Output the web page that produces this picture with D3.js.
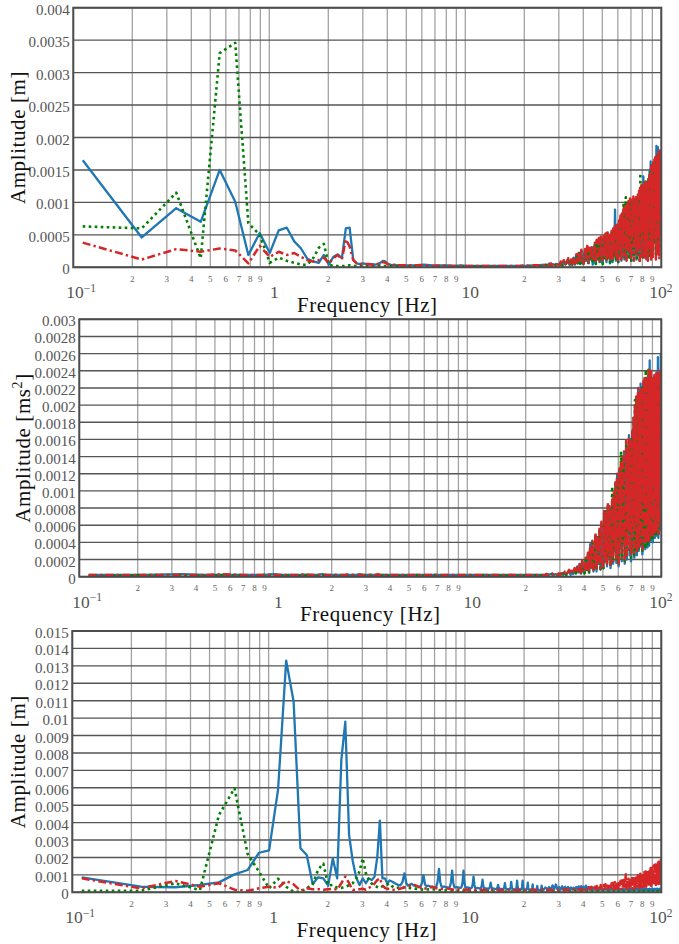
<!DOCTYPE html>
<html>
<head>
<meta charset="utf-8">
<script src="https://cdn.jsdelivr.net/npm/d3@7"></script>
<style>
  body { margin: 0; background: #fff; }
</style>
</head>
<body>
<script>
// FFT bin spacing and value unit (values below are in 1e-5)
const binHz = 0.1117;
const unit = 1e-5;
// segments: [first bin, bin step]
const LO = [1, 1], MID = [43, 6], FINE = [39, 1], HI = [225, 5];

// ---- panel 1: displacement [m]
const p1BlueLo = "165 46 91 70 150 101 19 53 22 57 61 40 29 13 9 7 19 4 16 20 14 60 61 12 6 5 6 5 4 5 4 5 7 10 9 5 4 3 4 3";
const p1GreenLo = "63 60 115 14 330 346 68 50 7 15 10 7 4 4 14 30 36 4 2 2 2 2 3 2 2 2 2 2 2 2 2 2 3 2 2 2 2 2 2 2";
const p1RedLo = "38 12 28 24 29 26 6 33 16 24 19 22 16 11 9 11 15 6 14 19 12 43 32 11 6 5 5 5 5 4 4 5 6 8 7 5 4 4 3 3";
const p1BlueMid = "3 3 4 3 3 3 2 3 2 2 2 2 2 2 2 2 2 2 2 2 2 2 3 2 2 3 2 3 3 3 4";
const p1GreenMid = "2 1 2 1 1 2 1 1 1 1 1 1 1 1 1 1 1 1 1 1 1 1 1 1 1 1 1 2 1 2 2";
const p1RedMid = "3 3 3 2 3 2 2 2 2 2 2 2 2 2 2 2 2 2 2 2 2 2 2 2 3 2 3 3 3 3 4";
const p1BlueHi = `
2 4 3 6 2 5 4 2 5
4 8 3 10 4 9 12 3 11
6 15 4 18 7 22 6 25 8
5 26 10 30 6 28 12 31 4
10 35 5 40 12 42 8 44 10
6 45 15 50 8 52 14 48 6
18 55 8 60 20 89 10 65 15
8 70 22 78 10 82 25 88 12
30 90 12 96 35 100 15 102 25
10 104 40 106 18 100 32 104 12
45 108 20 114 10 118 50 120 25
15 140 55 128 30 130 12 126 45
22 135 60 148 18 163 65 155 35
25 158 75 160 40 168 20 187 80
35 185 85 172 30 176 55 178 95`;
const p1GreenHi = `
2 4 2 5 3 4 2 5 3
3 8 2 10 4 7 12 3 10
4 14 5 19 6 22 5 25 7
4 26 9 31 5 29 11 32 6
8 36 5 42 10 44 7 46 9
5 47 14 50 9 53 12 49 7
15 56 8 60 18 64 10 66 14
8 70 20 78 12 84 22 100 14
25 108 12 98 30 102 15 104 22
10 105 35 107 16 103 30 106 14
40 110 20 116 10 145 45 125 22
15 126 50 129 28 132 14 128 40
20 136 55 144 18 150 60 158 30
25 160 70 164 35 168 20 171 75
30 173 80 176 28 178 50 179 90`;
const p1RedHi = `
3 5 2 4 6 2 5 3 6
3 9 4 11 5 8 14 4 12
5 16 6 20 8 24 7 27 10
6 28 12 33 8 30 15 34 9
12 38 7 42 16 45 10 47 14
9 48 20 52 12 55 18 50 11
22 58 10 62 25 66 14 68 8
12 72 28 80 9 86 30 91 18
35 94 10 100 40 104 20 106 12
15 107 45 109 10 105 38 108 18
50 112 25 118 10 122 55 127 14
20 128 60 131 12 134 18 130 50
10 138 65 146 22 152 12 160 40
14 162 80 166 45 170 12 173 85
16 175 90 178 12 180 60 181 100`;

// ---- panel 2: acceleration
const p2BlueLo = "2 2 3 2 2 2 2 2 3 2 2 2 2 2 2 3 2 2 2 2 2 2 2 2 3 2 2 2 2 2 2 2 2 2 2 2 2 2 2 2";
const p2GreenLo = "1 2 2 1 2 2 1 2 2 1 2 1 2 2 1 2 1 2 2 1 2 1 2 2 1 2 1 2 2 1 2 1 2 2 1 2 1 2 2 1";
const p2RedLo = "2 2 2 2 3 2 2 2 2 2 2 2 3 2 2 2 2 2 2 2 2 3 2 2 2 2 2 2 2 2 3 2 2 2 2 2 2 2 2 2";
const p2BlueMid = "2 2 2 2 2 2 2 2 2 2 2 2 2 2 2 2 2 2 2 2 2 2 2 2 2 2 2 2 2 2 2";
const p2GreenMid = "1 2 1 2 1 1 2 1 2 1 1 2 1 2 1 1 2 1 2 1 1 2 1 2 1 1 2 1 2 1 2";
const p2RedMid = "2 2 2 2 2 2 2 2 2 2 2 2 2 2 2 2 2 2 2 2 2 2 2 2 2 2 2 2 2 2 2";
const p2BlueHi = `
2 3 2 3 3 2 3 2 3
2 4 2 5 3 5 7 2 6
3 9 4 12 5 15 4 18 6
4 21 8 26 5 38 10 40 6
12 48 6 46 15 54 8 62 12
10 75 18 70 12 84 22 80 10
25 88 15 96 30 110 16 118 22
12 124 35 132 18 138 40 144 15
45 155 20 148 50 165 25 160 18
30 168 55 185 22 198 60 208 25
65 218 30 212 75 225 35 220 26
40 226 85 231 32 224 80 228 34
90 240 36 252 95 238 42 230 85
40 225 100 233 45 227 90 236 48
105 256 45 240 95 238 55 260 115`;
const p2GreenHi = `
2 3 2 3 3 2 3 2 3
2 4 3 5 2 4 7 3 6
3 9 4 12 5 14 4 17 6
4 20 8 25 5 33 10 40 7
12 49 7 46 15 55 9 62 13
10 76 18 78 14 84 22 80 12
28 105 16 96 32 108 18 116 25
14 124 38 146 20 138 42 140 18
48 155 22 148 52 160 28 156 22
32 168 60 185 25 206 40 198 28
68 216 32 210 78 215 38 220 30
42 226 88 230 35 241 82 228 36
92 241 40 234 96 238 45 230 88
42 227 100 232 48 226 92 235 50
105 236 48 233 98 237 58 230 110`;
const p2RedHi = `
2 3 2 3 4 2 3 2 4
2 5 3 6 3 5 8 3 7
4 10 5 13 6 16 5 19 7
5 22 9 28 6 35 12 42 8
15 51 8 48 18 56 10 64 15
12 78 20 72 15 86 25 82 14
30 90 18 98 35 112 20 120 28
15 126 40 134 22 140 45 146 20
50 159 25 150 55 162 30 158 24
35 170 60 188 28 200 65 210 30
70 220 35 214 80 218 40 222 32
45 228 90 233 38 226 85 230 40
95 243 42 236 100 240 48 232 90
45 227 105 235 50 229 95 238 55
110 239 50 236 100 240 60 234 120`;

// ---- panel 3: displacement [m]
const p3BlueLo = "86 32 29 42 57 103 128 227 241 590 1330 1095 253 214 48 86 80 38 195 80 760 979 330 180 85 42 80 52 80 70 90 200 411 80 80 52 68 62";
const p3BlueFine = `
55 48 42 40 58 109 52 38 44 48 40
36 34 30 32 50 99 46 34 38 36 32
32 30 28 34 62 135 58 32 30 34 30
30 28 27 32 58 124 55 30 28 30 28
28 26 25 30 56 124 52 28 26 28 26
26 24 23 27 44 90 42 26 24 25 24
24 22 21 25 38 72 36 24 22 23 22
22 20 20 23 32 55 30 22 20 22 20
20 19 18 21 28 42 27 20 19 20 19
19 18 18 21 30 52 29 20 18 19 18
18 17 17 20 32 60 31 19 18 18 17
17 17 16 20 34 67 33 19 17 17 16
16 16 16 19 34 67 32 18 16 17 16
16 15 15 18 30 55 28 17 16 16 15
15 15 14 17 26 45 25 16 15 15 14
14 14 14 16 22 36 21 15 14 14 14
14 13 13 16 23 38 22 15 14 14 13`;
const p3GreenLo = "9 9 52 13 444 597 220 118 23 78 32 3 3 23 45 130 165 40 42 25 25 32 40 52 80 120 195 110 70 50 40 30 25 35 42 45 50 35 28 25";
const p3RedLo = "80 23 65 32 52 15 9 23 32 26 65 46 9 23 18 18 15 18 20 15 52 90 52 13 15 18 20 15 25 35 50 70 80 40 25 20 18 15 15 15";
const p3GreenMid = "30 22 15 18 12 10 8 9 7 6 6 5 6 5 5 4 5 4 5 4 4 5 4 4 4 3 4 3 4 3 4";
const p3RedMid = "25 45 20 30 18 22 15 18 14 16 13 15 12 14 12 13 12 14 12 13 12 14 13 12 14 13 15 13 14 15 16";
const p3BlueHi = `
14 28 16 30 15 40 18 45 16
30 15 35 14 32 16 30 14 28
15 26 14 30 16 34 15 36 16
32 14 38 16 30 15 28 14 26
15 25 14 24 16 22 14 24 15
22 14 20 15 22 14 20 15 21
14 20 15 18 14 20 15 18 14
18 14 20 15 18 14 20 15 18
14 18 15 20 14 18 15 20 14
20 14 18 15 20 14 18 15 20
14 20 15 18 14 20 15 18 14
18 14 20 15 18 14 20 15 18
14 18 15 20 14 18 15 20 14
20 14 18 15 20 14 18 15 20
14 20 15 18 14 20 15 18 14`;
const p3GreenHi = `
3 6 4 8 3 5 7 3 6
4 7 3 6 4 8 3 5 4
6 3 7 4 5 3 8 4 6
3 6 4 7 3 5 4 8 3
5 3 6 4 7 3 5 4 6
3 6 4 5 3 7 4 6 3
5 4 7 3 6 4 5 3 7
4 6 3 5 4 8 3 6 4
6 3 7 4 5 3 6 4 5
3 5 4 7 3 6 4 5 3
6 4 5 3 7 4 6 3 5
4 7 3 6 4 5 3 7 4
5 3 6 4 8 3 5 4 6
3 6 4 5 3 7 4 6 3
6 4 7 3 5 4 6 3 8`;
const p3RedHi = `
12 15 13 16 12 14 15 12 14
13 16 12 18 14 15 13 17 14
15 18 13 20 14 17 15 21 14
16 23 14 26 15 28 18 32 14
18 32 14 36 20 38 15 42 17
20 42 15 46 22 48 16 52 18
24 52 16 55 25 58 18 61 20
22 62 28 66 18 68 30 70 20
32 103 20 75 35 78 22 80 25
35 82 20 88 38 90 24 95 28
40 98 25 102 42 106 28 109 30
45 112 30 116 48 120 32 125 35
50 128 34 134 55 140 36 147 40
58 150 40 156 62 160 42 165 45
65 170 48 176 70 180 50 185 55`;

const nums = s => s.trim().split(/\s+/).map(Number);
const pts = parts => parts
    .flatMap(([seg, s]) => nums(s).map((v, i) => ({ f: (seg[0] + seg[1] * i) * binHz, v: v * unit })))
    .sort((a, b) => a.f - b.f);

const styles = {
    blue: { stroke: "#1f77b4", width: 2.3, dash: null },
    green: { stroke: "#008000", width: 2.6, dash: "2.6,3.4" },
    red: { stroke: "#d62728", width: 2.5, dash: "8,3.2,2.4,3.2" }
};

const panels = [
    {
        top: 7.7, bottom: 267.3, left: 73.3, yMax: 0.004, yStep: 0.0005, labelX: 25, unitSup: null, unitTxt: "m",
        series: {
            blue: pts([[LO, p1BlueLo], [MID, p1BlueMid], [HI, p1BlueHi]]),
            green: pts([[LO, p1GreenLo], [MID, p1GreenMid], [HI, p1GreenHi]]),
            red: pts([[LO, p1RedLo], [MID, p1RedMid], [HI, p1RedHi]])
        }
    },
    {
        top: 319.3, bottom: 576.7, left: 79.3, yMax: 0.003, yStep: 0.0002, labelX: 29.5, unitSup: "2", unitTxt: "ms",
        series: {
            blue: pts([[LO, p2BlueLo], [MID, p2BlueMid], [HI, p2BlueHi]]),
            green: pts([[LO, p2GreenLo], [MID, p2GreenMid], [HI, p2GreenHi]]),
            red: pts([[LO, p2RedLo], [MID, p2RedMid], [HI, p2RedHi]])
        }
    },
    {
        top: 631, bottom: 892.3, left: 72.3, yMax: 0.015, yStep: 0.001, labelX: 25, unitSup: null, unitTxt: "m",
        series: {
            blue: pts([[LO, p3BlueLo], [FINE, p3BlueFine], [HI, p3BlueHi]]),
            green: pts([[LO, p3GreenLo], [MID, p3GreenMid], [HI, p3GreenHi]]),
            red: pts([[LO, p3RedLo], [MID, p3RedMid], [HI, p3RedHi]])
        }
    }
];

const W = 679, H = 944, right = 661.3;
const svg = d3.select("body").append("svg")
    .attr("width", W)
    .attr("height", H)
    .attr("font-family", "'Liberation Serif', 'DejaVu Serif', serif")
    .style("font-family", "'Liberation Serif', 'DejaVu Serif', serif")
    .style("background", "#fff");

panels.forEach((p, pi) => {
    const x = d3.scaleLog().domain([0.1, 100]).range([p.left, right]);
    const y = d3.scaleLinear().domain([0, p.yMax]).range([p.bottom, p.top]);
    const g = svg.append("g").attr("id", `panel${pi + 1}`);

    g.append("clipPath")
        .attr("id", `clip${pi}`)
        .append("rect")
        .attr("x", p.left).attr("y", p.top)
        .attr("width", right - p.left).attr("height", p.bottom - p.top);

    // grid
    const xt = x.ticks();
    g.append("g").selectAll("line")
        .data(xt)
        .join("line")
        .attr("x1", d => x(d)).attr("x2", d => x(d))
        .attr("y1", p.top).attr("y2", p.bottom)
        .attr("stroke", "#a3a3a3")
        .attr("stroke-width", 1.3);
    const nY = Math.round(p.yMax / p.yStep);
    const yt = d3.range(0, nY + 1).map(i => +(i * p.yStep).toFixed(6));
    g.append("g").selectAll("line")
        .data(yt)
        .join("line")
        .attr("x1", p.left).attr("x2", right)
        .attr("y1", d => y(d)).attr("y2", d => y(d))
        .attr("stroke", "#555")
        .attr("stroke-width", 1.4);

    // data
    const line = d3.line().x(d => x(d.f)).y(d => y(d.v));
    const dg = g.append("g").attr("clip-path", `url(#clip${pi})`);
    ["blue", "green", "red"].forEach(k => {
        const s = styles[k];
        dg.append("path")
            .datum(p.series[k])
            .attr("d", line)
            .attr("fill", "none")
            .attr("stroke", s.stroke)
            .attr("stroke-width", s.width)
            .attr("stroke-linejoin", "round")
            .attr("stroke-dasharray", s.dash);
    });

    // frame
    g.append("rect")
        .attr("x", p.left).attr("y", p.top)
        .attr("width", right - p.left).attr("height", p.bottom - p.top)
        .attr("fill", "none")
        .attr("stroke", "#4d4d4d")
        .attr("stroke-width", 2);

    // y tick labels
    g.append("g").selectAll("text")
        .data(yt)
        .join("text")
        .attr("x", p.left - 3.5)
        .attr("y", d => y(d) + 7)
        .attr("text-anchor", "end")
        .attr("font-size", 15)
        .attr("fill", "#555")
        .text(d => String(d));

    // x minor labels
    const mant = t => Math.round(t / 10 ** Math.floor(Math.log10(t) + 1e-9));
    g.append("g").selectAll("text")
        .data(xt.filter(t => mant(t) > 1))
        .join("text")
        .attr("x", d => x(d))
        .attr("y", p.bottom + 14.5)
        .attr("text-anchor", "middle")
        .attr("font-size", 9)
        .attr("fill", "#666")
        .text(d => mant(d));

    // x major labels
    const maj = g.append("g").attr("fill", "#555").attr("font-size", 17.5);
    const e1 = maj.append("text").attr("x", x(0.1) - 7).attr("y", p.bottom + 31);
    e1.append("tspan").text("10");
    e1.append("tspan").attr("font-size", 11.5).attr("dy", -6.5).text("\u22121");
    maj.append("text").attr("x", x(1) + 5).attr("y", p.bottom + 31)
        .attr("text-anchor", "middle").text("1");
    maj.append("text").attr("x", x(10) + 5).attr("y", p.bottom + 31)
        .attr("text-anchor", "middle").text("10");
    const e2 = maj.append("text").attr("x", x(100) - 12).attr("y", p.bottom + 31);
    e2.append("tspan").text("10");
    e2.append("tspan").attr("font-size", 11.5).attr("dy", -6.5).text("2");

    // axis titles
    g.append("text")
        .attr("x", (p.left + right) / 2)
        .attr("y", p.bottom + 44.5)
        .attr("text-anchor", "middle")
        .attr("font-size", 21)
        .attr("letter-spacing", 0.6)
        .attr("fill", "#111")
        .text("Frequency [Hz]");
    const yl = g.append("text")
        .attr("transform", `translate(${p.labelX}, ${(p.top + p.bottom) / 2}) rotate(-90)`)
        .attr("text-anchor", "middle")
        .attr("font-size", 21)
        .attr("letter-spacing", 0.6)
        .attr("fill", "#111");
    yl.append("tspan").text(`Amplitude [${p.unitTxt}`);
    if (p.unitSup) {
        yl.append("tspan").attr("font-size", 14).attr("dy", -8).text(p.unitSup);
        yl.append("tspan").attr("dy", 8).text("]");
    } else {
        yl.append("tspan").text("]");
    }
});
</script>
</body>
</html>
